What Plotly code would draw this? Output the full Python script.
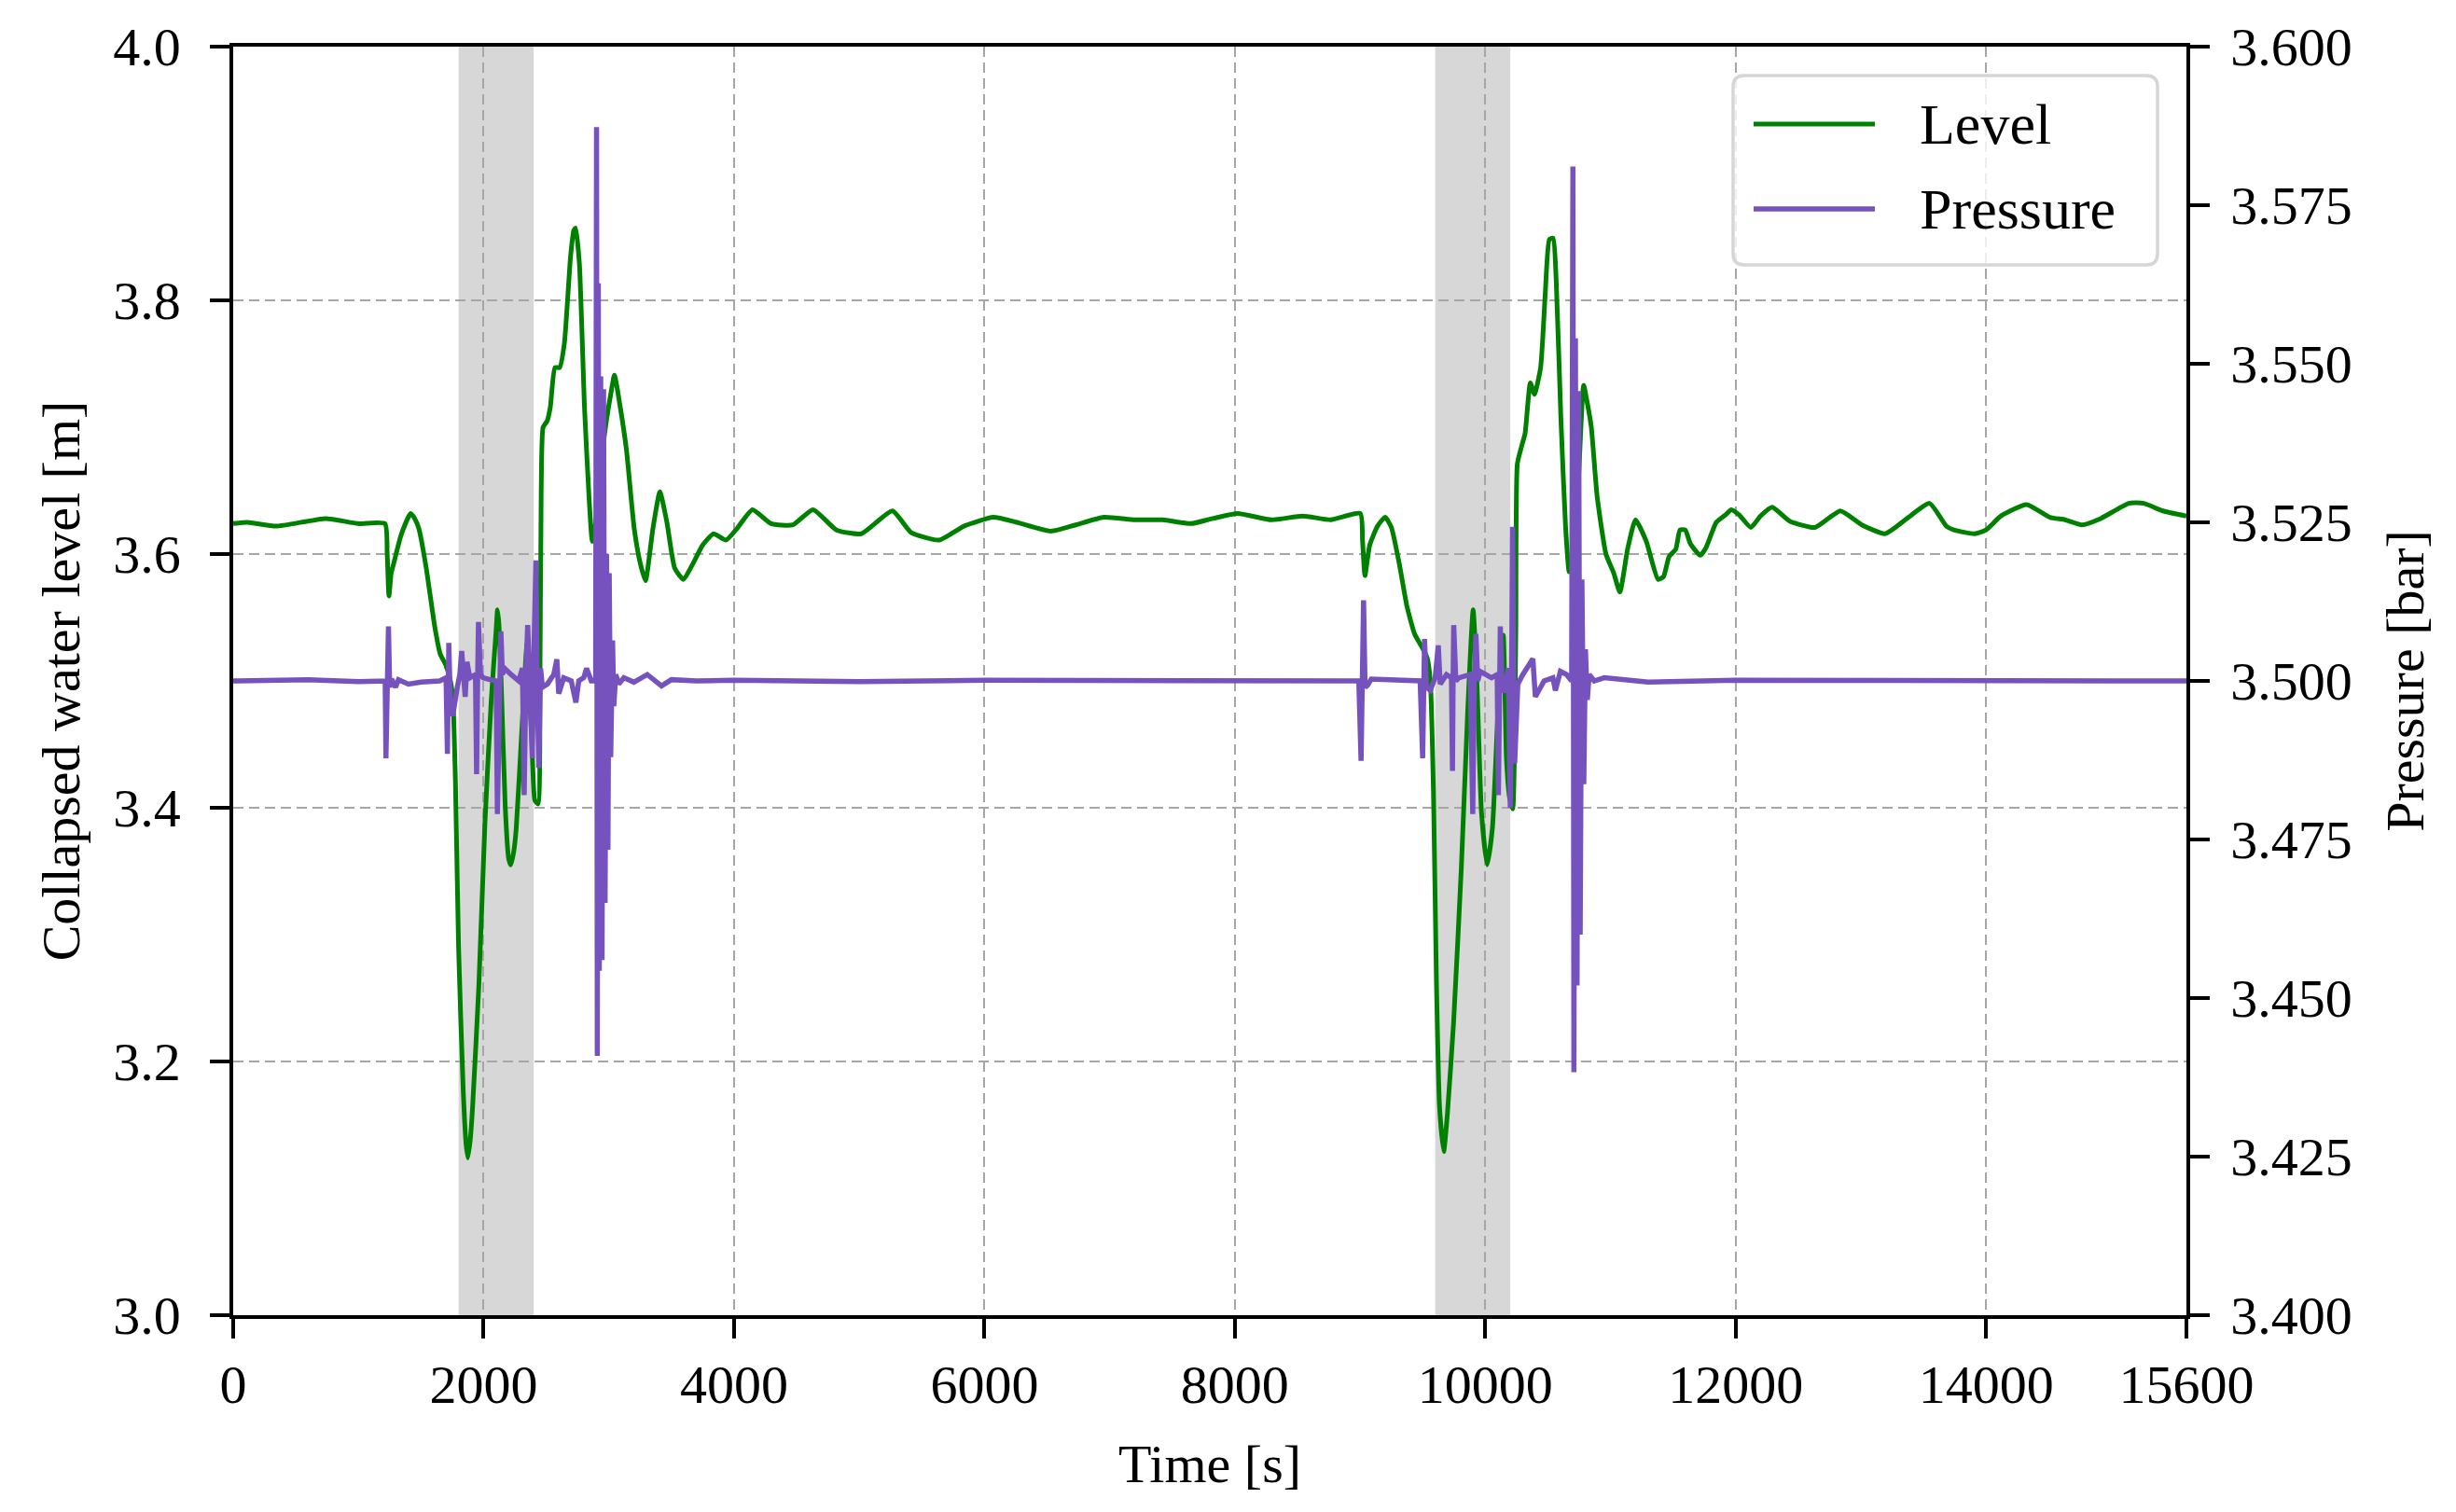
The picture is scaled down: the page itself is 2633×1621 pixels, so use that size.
import plotly.graph_objects as go

# ---------------- data ----------------
level_time = [0, 114, 342, 741, 998, 1212, 1230, 1244, 1262, 1283, 1341, 1417, 1450, 1483, 1540, 1611,
              1654, 1696, 1735, 1755, 1775, 1800, 1838, 1860, 1875, 1895, 1912, 1962, 2011, 2061, 2100,
              2111, 2122, 2140, 2173, 2200, 2217, 2240, 2260, 2309, 2335, 2347, 2365, 2384, 2409, 2435,
              2450, 2460, 2475, 2508, 2533, 2570, 2607, 2645, 2694, 2720, 2735, 2765, 2806, 2843, 2868,
              2905, 2960, 3017, 3045, 3091, 3141, 3203, 3253, 3293, 3352, 3408, 3464, 3526, 3596, 3675,
              3749, 3836, 3936, 4023, 4147, 4296, 4470, 4631, 4818, 5016, 5265, 5414, 5637, 5836, 6071,
              6258, 6531, 6730, 6953, 7202, 7425, 7649, 7822, 8021, 8294, 8542, 8766, 9002, 9020, 9039,
              9077, 9139, 9201, 9250, 9312, 9374, 9436, 9498, 9536, 9561, 9586, 9610, 9635, 9668, 9697,
              9747, 9809, 9859, 9903, 9933, 9970, 10015, 10057, 10107, 10144, 10169, 10194, 10219, 10244,
              10256, 10293, 10318, 10360, 10393, 10442, 10479, 10512, 10542, 10566, 10604, 10641, 10670,
              10700, 10740, 10786, 10817, 10847, 10894, 10964, 11026, 11075, 11137, 11200, 11286, 11380,
              11423, 11468, 11522, 11555, 11597, 11639, 11717, 11763, 11845, 11920, 11965, 12027, 12121,
              12198, 12291, 12431, 12634, 12836, 13007, 13193, 13368, 13548, 13683, 13743, 13909, 13999,
              14119, 14323, 14509, 14630, 14765, 14915, 15140, 15260, 15411, 15600]
level_value = [3.624, 3.625, 3.622, 3.628, 3.624, 3.624, 3.600, 3.567, 3.585, 3.593, 3.615, 3.632, 3.628,
               3.620, 3.590, 3.542, 3.521, 3.513, 3.500, 3.485, 3.420, 3.290, 3.175, 3.135, 3.124, 3.140,
               3.164, 3.260, 3.389, 3.485, 3.540, 3.556, 3.545, 3.500, 3.400, 3.360, 3.355, 3.365, 3.383,
               3.468, 3.515, 3.530, 3.490, 3.457, 3.406, 3.403, 3.500, 3.650, 3.700, 3.705, 3.716, 3.747,
               3.747, 3.766, 3.834, 3.855, 3.857, 3.829, 3.715, 3.643, 3.610, 3.631, 3.690, 3.727, 3.741,
               3.716, 3.682, 3.620, 3.592, 3.579, 3.620, 3.649, 3.625, 3.589, 3.580, 3.593, 3.607, 3.616,
               3.611, 3.620, 3.635, 3.624, 3.623, 3.635, 3.619, 3.616, 3.634, 3.617, 3.611, 3.622, 3.629,
               3.625, 3.618, 3.623, 3.629, 3.627, 3.627, 3.624, 3.628, 3.632, 3.627, 3.630, 3.627, 3.632,
               3.610, 3.583, 3.607, 3.622, 3.629, 3.621, 3.593, 3.559, 3.537, 3.526, 3.518, 3.500, 3.414,
               3.262, 3.164, 3.129, 3.158, 3.231, 3.353, 3.475, 3.556, 3.500, 3.396, 3.355, 3.384, 3.488,
               3.536, 3.439, 3.408, 3.399, 3.536, 3.671, 3.686, 3.695, 3.735, 3.726, 3.747, 3.805, 3.848,
               3.849, 3.817, 3.707, 3.622, 3.586, 3.600, 3.650, 3.733, 3.718, 3.700, 3.645, 3.600, 3.585,
               3.570, 3.604, 3.627, 3.610, 3.580, 3.582, 3.598, 3.604, 3.619, 3.619, 3.608, 3.599, 3.605,
               3.625, 3.631, 3.635, 3.631, 3.621, 3.630, 3.637, 3.626, 3.621, 3.634, 3.623, 3.616, 3.628,
               3.640, 3.622, 3.619, 3.616, 3.619, 3.630, 3.639, 3.629, 3.627, 3.623, 3.628, 3.640, 3.640,
               3.634, 3.630]

pressure_time = [0, 600, 1000, 1200, 1214, 1220, 1232, 1240, 1250, 1265, 1297, 1320, 1400, 1500, 1650,
                 1700, 1711, 1717, 1722, 1735, 1753, 1790, 1810, 1825, 1840, 1853, 1867, 1890, 1935, 1944,
                 1952, 1959, 1975, 1996, 2050, 2100, 2110, 2124, 2138, 2150, 2167, 2220, 2280, 2310, 2324,
                 2338, 2352, 2370, 2389, 2400, 2418, 2428, 2440, 2455, 2470, 2509, 2560, 2585, 2600, 2640,
                 2700, 2737, 2760, 2800, 2822, 2860, 2895, 2902, 2908, 2916, 2924, 2935, 2946, 2958, 2970,
                 2982, 2993, 3003, 3015, 3030, 3040, 3055, 3080, 3120, 3200, 3307, 3421, 3500, 3700, 4000,
                 5000, 6000, 7000, 8000, 8990, 9008, 9018, 9028, 9040, 9060, 9090, 9200, 9300, 9480, 9500,
                 9508, 9515, 9530, 9560, 9600, 9625, 9640, 9690, 9730, 9738, 9743, 9748, 9765, 9790, 9880,
                 9900, 9912, 9925, 9940, 9960, 10050, 10095, 10105, 10113, 10120, 10135, 10150, 10185, 10200,
                 10210, 10218, 10228, 10235, 10260, 10300, 10380, 10400, 10470, 10540, 10560, 10600, 10650,
                 10690, 10700, 10708, 10720, 10733, 10746, 10758, 10772, 10787, 10800, 10815, 10830, 10870,
                 10950, 11100, 11300, 12000, 13000, 14000, 15000, 15600]
pressure_value = [3.5000, 3.5002, 3.4999, 3.5000, 3.5000, 3.4878, 3.5000, 3.5086, 3.4990, 3.5003, 3.4990,
                  3.5002, 3.4995, 3.4998, 3.5000, 3.5005, 3.4885, 3.5000, 3.5060, 3.4960, 3.4945, 3.4990,
                  3.5010, 3.5047, 3.4990, 3.4975, 3.5030, 3.5005, 3.5010, 3.4853, 3.5000, 3.5093, 3.5010,
                  3.5005, 3.5002, 3.5000, 3.4790, 3.5000, 3.5078, 3.5010, 3.5020, 3.5010, 3.5000, 3.5020,
                  3.4820, 3.5010, 3.5088, 3.4990, 3.4878, 3.5030, 3.5190, 3.5000, 3.4863, 3.5020, 3.4990,
                  3.4995, 3.5010, 3.5034, 3.4980, 3.5005, 3.5000, 3.4966, 3.5000, 3.5005, 3.5020, 3.5000,
                  3.5000, 3.5873, 3.4409, 3.5627, 3.4543, 3.5480, 3.4560, 3.5460, 3.4650, 3.5200, 3.4734,
                  3.5170, 3.4880, 3.5064, 3.4960, 3.5010, 3.4995, 3.5005, 3.4998, 3.5010, 3.4992, 3.5002,
                  3.5000, 3.5001, 3.4999, 3.5001, 3.5000, 3.5001, 3.5000, 3.4874, 3.5000, 3.5127, 3.4990,
                  3.4993, 3.5003, 3.5002, 3.5000, 3.5000, 3.4878, 3.5000, 3.5066, 3.4990, 3.4985, 3.5005,
                  3.5056, 3.4995, 3.5010, 3.5005, 3.4858, 3.5000, 3.5088, 3.5000, 3.5005, 3.5010, 3.4790,
                  3.5000, 3.5074, 3.5000, 3.5015, 3.5005, 3.5010, 3.4820, 3.5000, 3.5086, 3.4985, 3.4985,
                  3.5020, 3.4800, 3.5000, 3.5243, 3.5000, 3.4870, 3.4995, 3.5010, 3.5035, 3.4975, 3.5000,
                  3.5005, 3.4985, 3.5015, 3.5010, 3.5000, 3.5811, 3.4383, 3.5540, 3.4520, 3.5457, 3.4600,
                  3.5160, 3.4837, 3.5050, 3.4970, 3.5010, 3.5000, 3.5005, 3.5002, 3.4998, 3.5001, 3.5000,
                  3.5001, 3.5000, 3.5000]

shade_start = [1800, 9600]
shade_end = [2400, 10200]

x_ticks = [0, 2000, 4000, 6000, 8000, 10000, 12000, 14000, 15600]
x_tick_labels = ["0", "2000", "4000", "6000", "8000", "10000", "12000", "14000", "15600"]
level_ticks = [3.0, 3.2, 3.4, 3.6, 3.8, 4.0]
pressure_ticks = [3.400, 3.425, 3.450, 3.475, 3.500, 3.525, 3.550, 3.575, 3.600]

series_names = ["Level", "Pressure"]
series_colors = ["green", "#7652be"]

# ---------------- figure ----------------
FONT = "Liberation Serif"
FS = 58
W, H = 2633, 1621
ML, MR, MT, MB = 250, 289, 50, 211
PW, PH = W - ML - MR, H - MT - MB

fig = go.Figure()
fig.add_trace(go.Scatter(x=level_time, y=level_value, mode="lines", name=series_names[0],
                         line=dict(color=series_colors[0], width=5, shape="spline", smoothing=0.5),
                         yaxis="y", showlegend=False))
fig.add_trace(go.Scatter(x=pressure_time, y=pressure_value, mode="lines", name=series_names[1],
                         line=dict(color=series_colors[1], width=5.5), yaxis="y2", showlegend=False))

for s, e in zip(shade_start, shade_end):
    fig.add_shape(type="rect", xref="x", yref="y", x0=s, x1=e, y0=level_ticks[0], y1=level_ticks[-1],
                  fillcolor="#d7d7d7", line=dict(width=0), layer="below")

grid_dash = "11px,6px"
axis_common = dict(showline=True, linecolor="black", linewidth=3.5, ticks="outside", ticklen=21,
                   tickwidth=3.5, tickcolor="black",
                   tickfont=dict(family=FONT, size=FS, color="black"), automargin=False)

fig.update_layout(
    width=W, height=H,
    margin=dict(l=ML, r=MR, t=MT, b=MB),
    paper_bgcolor="white", plot_bgcolor="white",
    font=dict(family=FONT, size=FS, color="black"),
    xaxis=dict(range=[0, 15600], tickvals=x_ticks, ticktext=x_tick_labels, mirror=True,
               showgrid=True, gridcolor="#a6a6a6", gridwidth=2, griddash=grid_dash,
               ticklabelstandoff=0,
               title=dict(text="Time [s]", font=dict(family=FONT, size=FS), standoff=33),
               zeroline=False, **axis_common),
    yaxis=dict(range=[3.0, 4.0], tickvals=level_ticks, tickformat=".1f", mirror=True,
               showgrid=True, gridcolor="#a6a6a6", gridwidth=2, griddash=grid_dash,
               ticklabelstandoff=20,
               title=dict(text="Collapsed water level [m]", font=dict(family=FONT, size=FS), standoff=18),
               zeroline=False, **axis_common),
    yaxis2=dict(range=[3.4, 3.6], tickvals=pressure_ticks, tickformat=".3f", overlaying="y", side="right",
                showgrid=False, ticklabelstandoff=11,
                title=dict(text="Pressure [bar]", font=dict(family=FONT, size=FS), standoff=38),
                zeroline=False, **axis_common),
)

# manual legend (box with rounded corners, long line samples)
def px_to_paper_x(px):
    return (px - ML) / PW

def px_to_paper_y(py):
    return (H - MB - py) / PH

bx0, bx1 = px_to_paper_x(1858), px_to_paper_x(2313)
by1, by0 = px_to_paper_y(81), px_to_paper_y(284)
rx, ry = 12 / PW, 12 / PH
path = (f"M {bx0+rx},{by1} L {bx1-rx},{by1} Q {bx1},{by1} {bx1},{by1-ry} "
        f"L {bx1},{by0+ry} Q {bx1},{by0} {bx1-rx},{by0} "
        f"L {bx0+rx},{by0} Q {bx0},{by0} {bx0},{by0+ry} "
        f"L {bx0},{by1-ry} Q {bx0},{by1} {bx0+rx},{by1} Z")
fig.add_shape(type="path", xref="paper", yref="paper", path=path,
              fillcolor="rgba(255,255,255,0.8)", line=dict(color="#d6d6d6", width=3.5), layer="above")

legend_rows_px = [133, 224]
for name, color, ypx, w in zip(series_names, series_colors, legend_rows_px, [5, 5.5]):
    yy = px_to_paper_y(ypx)
    fig.add_shape(type="line", xref="paper", yref="paper", x0=px_to_paper_x(1880), x1=px_to_paper_x(2010),
                  y0=yy, y1=yy, line=dict(color=color, width=w), layer="above")
    fig.add_annotation(xref="paper", yref="paper", x=px_to_paper_x(2056), y=yy, text=name,
                       showarrow=False, xanchor="left", yanchor="middle",
                       font=dict(family=FONT, size=62, color="black"))

fig.write_html("out.html", config={"displayModeBar": False},
               post_script="document.body.style.margin='0';document.body.style.overflow='hidden';")
